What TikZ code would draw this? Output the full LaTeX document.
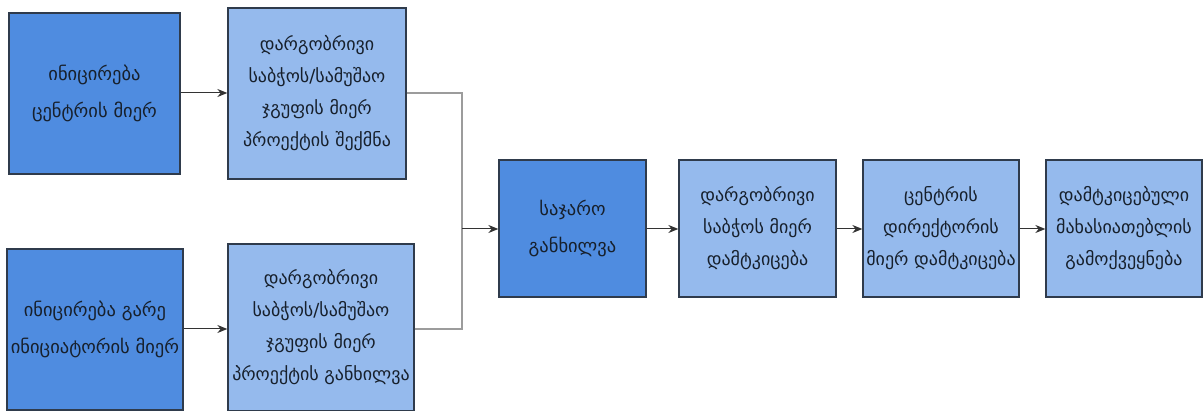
\documentclass[tikz,border=0pt]{standalone}
\usepackage{fontspec}
\newfontfamily\geo{DejaVu Sans}
\usetikzlibrary{arrows.meta}
\definecolor{darkfill}{HTML}{4F8CE0}
\definecolor{lightfill}{HTML}{95BAED}
\definecolor{edge}{HTML}{2F3B4C}
\definecolor{txt}{HTML}{17202C}
\definecolor{gline}{HTML}{9C9C9C}
\definecolor{aline}{HTML}{333333}
\tikzset{
  x=1pt, y=-1pt,
  box/.style={draw=edge, line width=1.3pt, inner sep=0pt, align=center,
    text=txt, font=\geo\fontsize{18}{32}\selectfont},
  darkbox/.style={box, fill=darkfill, font=\geo\fontsize{18.5}{37}\selectfont},
  lightbox/.style={box, fill=lightfill},
  elbow/.style={draw=gline, line width=1.4pt},
  arr/.style={draw=aline, line width=1pt, -{Stealth[length=10pt,width=8pt]}},
}
\newcommand{\boxat}[7]{% name, style, x1, y1, x2, y2, text
  \node[#2, minimum width={#5-#3}, minimum height={#6-#4}] (#1) at ({(#3+#5)/2},{(#4+#6)/2}) {#7};}
\begin{document}
\begin{tikzpicture}
\useasboundingbox[fill=white] (0,0) rectangle (1204,411);
\boxat{b1}{darkbox}{9}{13}{180}{174}{ინიცირება\\ცენტრის მიერ}
\boxat{b2}{darkbox}{7}{249}{183}{410}{ინიცირება გარე\\ინიციატორის მიერ}
\boxat{b3}{lightbox}{228}{8}{406}{179}{დარგობრივი\\საბჭოს/სამუშაო\\ჯგუფის მიერ\\პროექტის შექმნა}
\boxat{b4}{lightbox}{228}{244}{414}{410.5}{დარგობრივი\\საბჭოს/სამუშაო\\ჯგუფის მიერ\\პროექტის განხილვა}
\boxat{b5}{darkbox}{499}{160}{646}{297}{საჯარო\\განხილვა}
\boxat{b6}{lightbox}{679}{160}{836}{297}{დარგობრივი\\საბჭოს მიერ\\დამტკიცება}
\boxat{b7}{lightbox}{863}{160}{1019}{297}{ცენტრის\\დირექტორის\\მიერ დამტკიცება}
\boxat{b8}{lightbox}{1046}{160}{1202}{297}{დამტკიცებული\\მახასიათებლის\\გამოქვეყნება}
\coordinate (j) at (462,229);
\draw[arr] (b1.east |- 0,93) -- (b3.west |- 0,93);
\draw[arr] (b2.east |- 0,329) -- (b4.west |- 0,329);
\draw[elbow] (b3.east |- 0,93) -| (j);
\draw[elbow] (b4.east |- 0,329) -| (j);
\draw[arr] (j) -- (b5.west |- j);
\draw[arr] (b5.east |- 0,229) -- (b6.west |- 0,229);
\draw[arr] (b6.east |- 0,229) -- (b7.west |- 0,229);
\draw[arr] (b7.east |- 0,229) -- (b8.west |- 0,229);
\end{tikzpicture}
\end{document}
